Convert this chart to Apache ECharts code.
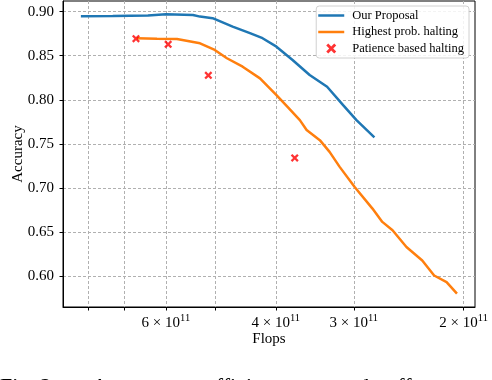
<!DOCTYPE html>
<html><head><meta charset="utf-8">
<script src="https://cdn.jsdelivr.net/npm/echarts@6/dist/echarts.min.js"></script>
<style>html,body{margin:0;padding:0;background:#fff}#c{width:492px;height:380px}</style>
</head><body><div id="c"></div>
<script>
// ---- data (flops, accuracy) ----
const ourFlops = [8.21e11, 7.30e11, 6.41e11, 6.00e11, 5.43e11, 5.29e11, 5.05e11, 4.69e11, 4.40e11, 4.20e11, 3.99e11, 3.76e11, 3.53e11, 3.31e11, 3.12e11, 2.97e11, 2.78e11];
const ourAcc   = [0.8948, 0.8950, 0.8955, 0.8970, 0.8962, 0.8943, 0.8925, 0.8830, 0.8755, 0.8698, 0.8602, 0.8451, 0.8281, 0.8148, 0.7940, 0.7770, 0.7573];

const highFlops = [6.68e11, 6.20e11, 5.76e11, 5.29e11, 5.01e11, 4.79e11, 4.52e11, 4.24e11, 3.99e11, 3.84e11, 3.66e11, 3.57e11, 3.40e11, 3.28e11, 3.16e11, 2.99e11, 2.80e11, 2.70e11, 2.60e11, 2.47e11, 2.33e11, 2.23e11, 2.13e11, 2.05e11];
const highAcc   = [0.8697, 0.8692, 0.8689, 0.8640, 0.8565, 0.8471, 0.8375, 0.8243, 0.8053, 0.7927, 0.7769, 0.7657, 0.7542, 0.7409, 0.7239, 0.7011, 0.6766, 0.6615, 0.6520, 0.6330, 0.6178, 0.6007, 0.5932, 0.5801];

const patFlops = [6.70e11, 5.95e11, 5.13e11, 3.73e11];
const patAcc   = [0.8693, 0.8629, 0.8277, 0.7341];

const seriesNames = ['Our Proposal', 'Highest prob. halting', 'Patience based halting'];
const xGridTicks  = [2e11, 3e11, 4e11, 5e11, 6e11, 7e11, 8e11];
const xLabelTicks = [2e11, 3e11, 4e11, 6e11];
const yTicks      = [0.60, 0.65, 0.70, 0.75, 0.80, 0.85, 0.90];
const xRange = [1.918e11, 8.77e11];
const yRange = [0.565, 0.912];

// ---- chart ----
const L = v => Math.log10(v);
const pairs = (xs, ys) => xs.map((x, i) => [L(x), ys[i]]);
const FONT = '"Liberation Serif", "Times New Roman", serif';
const gridLine = {show: true, lineStyle: {color: '#b0b0b0', type: [3, 2], width: 1}};
const crossPath = 'path://M0.2,0 L0.5,0.3 L0.8,0 L1,0.2 L0.7,0.5 L1,0.8 L0.8,1 L0.5,0.7 L0.2,1 L0,0.8 L0.3,0.5 L0,0.2 Z';
const lineIcon = 'path://M0,0 L26,0 L26,2.5 L0,2.5 Z';

const chart = echarts.init(document.getElementById('c'));
chart.setOption({
  animation: false,
  textStyle: {fontFamily: FONT},
  grid: {left: 63, right: 17, top: 1, bottom: 73, show: true, borderColor: '#000', borderWidth: 1,
         containLabel: false, outerBoundsMode: 'none'},
  xAxis: {
    type: 'value', inverse: true, min: L(xRange[0]), max: L(xRange[1]),
    name: 'Flops', nameLocation: 'middle', nameGap: 25, nameMoveOverlap: false,
    nameTextStyle: {fontFamily: FONT, fontSize: 15, color: '#000'},
    axisLine: {show: true, onZero: false, lineStyle: {color: '#000', width: 1}},
    axisTick: {show: true, length: 3.5, customValues: xGridTicks.map(L), lineStyle: {color: '#000'}},
    axisLabel: {
      customValues: xLabelTicks.map(L), margin: 6, color: '#000',
      formatter: v => '{n|' + Math.round(Math.pow(10, v - 11)) + ' × 10}{s|11}',
      rich: {
        n: {fontFamily: FONT, fontSize: 15, color: '#000', verticalAlign: 'bottom'},
        s: {fontFamily: FONT, fontSize: 10.5, color: '#000', verticalAlign: 'bottom', padding: [0, 0, 7, 0]}
      }
    },
    splitLine: gridLine
  },
  yAxis: {
    type: 'value', min: yRange[0], max: yRange[1],
    name: 'Accuracy', nameLocation: 'middle', nameGap: 37, nameMoveOverlap: false,
    nameTextStyle: {fontFamily: FONT, fontSize: 15, color: '#000'},
    axisLine: {show: true, onZero: false, lineStyle: {color: '#000', width: 1}},
    axisTick: {show: true, length: 3.5, customValues: yTicks, lineStyle: {color: '#000'}},
    axisLabel: {customValues: yTicks, margin: 9, fontFamily: FONT, fontSize: 15, color: '#000', formatter: v => v.toFixed(2)},
    splitLine: gridLine
  },
  legend: {
    orient: 'vertical', right: 23, top: 6,
    backgroundColor: 'rgba(255,255,255,0.85)', borderColor: '#d0d0d0', borderWidth: 1, borderRadius: 3,
    padding: [2.5, 5, 2.5, 2], itemWidth: 26, itemHeight: 10, itemGap: 2.5,
    textStyle: {fontFamily: FONT, fontSize: 12.5, color: '#000', lineHeight: 14, padding: [0, 0, 0, 3]},
    data: [
      {name: seriesNames[0], icon: lineIcon},
      {name: seriesNames[1], icon: lineIcon},
      {name: seriesNames[2]}
    ]
  },
  series: [
    {name: seriesNames[0], type: 'line', data: pairs(ourFlops, ourAcc), showSymbol: false, symbol: 'none',
     lineStyle: {color: '#1f77b4', width: 2.5}, itemStyle: {color: '#1f77b4'}, z: 3},
    {name: seriesNames[1], type: 'line', data: pairs(highFlops, highAcc), showSymbol: false, symbol: 'none',
     lineStyle: {color: '#ff7f0e', width: 2.5}, itemStyle: {color: '#ff7f0e'}, z: 3},
    {name: seriesNames[2], type: 'scatter', data: pairs(patFlops, patAcc), symbol: crossPath, symbolSize: 8,
     itemStyle: {color: '#ff0000'}, z: 4}
  ],
  graphic: [
    {type: 'text', left: 0, top: 376, style: {text: 'Fig. 2:', font: '22px ' + FONT, fill: '#000'}},
    {type: 'text', left: 92, top: 376, style: {text: 'Accuracy-', font: '22px ' + FONT, fill: '#000'}},
    {type: 'text', left: 206, top: 376, style: {text: 'efficiency', font: '22px ' + FONT, fill: '#000'}},
    {type: 'text', left: 335, top: 376, style: {text: 'trade-off', font: '22px ' + FONT, fill: '#000'}}
  ]
});
</script>
</body></html>
